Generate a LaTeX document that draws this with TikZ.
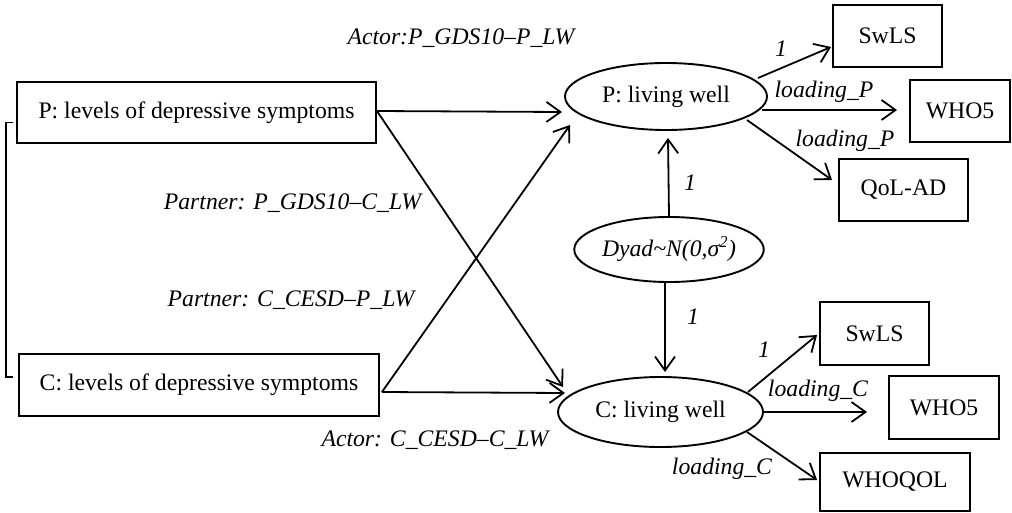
\documentclass[tikz,border=0pt]{standalone}
\usepackage{fontspec}
\setmainfont{Liberation Serif}
\usetikzlibrary{shapes.geometric,arrows.meta,calc}
\begin{document}
\begin{tikzpicture}[x=1pt,y=-1pt,
  every node/.style={font=\fontsize{23.7pt}{28pt}\selectfont, inner sep=0pt},
  box/.style={draw, line width=1.9pt, rectangle},
  lat/.style={draw, line width=1.9pt, ellipse},
  lab/.style={font=\fontsize{23.7pt}{28pt}\selectfont\itshape},
  arr/.style={line width=1.8pt, -{Straight Barb[length=14pt,width=20pt]}},
  brk/.style={line width=1.8pt},
]
\useasboundingbox (0,0) rectangle (1012,512);
% observed predictors
\node[box, minimum width=359pt, minimum height=61pt] (pbox) at (196.5,112.5) {P: levels of depressive symptoms};
\node[box, minimum width=360pt, minimum height=62pt] (cbox) at (199,385) {C: levels of depressive symptoms};
% latent variables
\node[lat, minimum width=202pt, minimum height=67pt] (plw) at (666,96.5) {P: living well};
\node[lat, minimum width=172pt, minimum height=65pt] (dyad) at (669,249.5) {\itshape Dyad\textasciitilde N(0,σ\textsuperscript{2})};
\node[lat, minimum width=205pt, minimum height=70pt] (clw) at (660.5,412) {C: living well};
% indicators
\node[box, minimum width=109pt, minimum height=62pt] (swlsp) at (887.5,36) {SwLS};
\node[box, minimum width=100pt, minimum height=62pt] (whop) at (960,111) {WHO5};
\node[box, minimum width=129pt, minimum height=62pt] (qol) at (903.5,190) {QoL-AD};
\node[box, minimum width=109pt, minimum height=63pt] (swlsc) at (874.5,333.5) {SwLS};
\node[box, minimum width=110pt, minimum height=63pt] (whoc) at (944,407.5) {WHO5};
\node[box, minimum width=150pt, minimum height=58pt] (whoqol) at (895,482) {WHOQOL};
% bracket (correlation)
\draw[brk] ($(pbox.west)+(-3,10)$) -- ++(-7,0) |- ($(cbox.west)+(-5,-8)$);
% actor / partner paths
\draw[arr] ($(pbox.east)+(0,-1.5)$) -- ($(plw.center)+(-104,15.5)$);
\draw[arr] ($(cbox.east)+(2,7)$) -- ($(plw.center)+(-96,28.5)$);
\draw[arr] ($(pbox.east)+(0,-1.5)$) -- ($(clw.center)+(-97.5,-25)$);
\draw[arr] ($(cbox.east)+(2,7)$) -- ($(clw.center)+(-95.5,-19)$);
% dyad paths
\draw[arr] (dyad.north) -- ($(plw.south)+(2,7)$);
\draw[arr] ($(dyad.south)+(-4,0)$) -- ($(dyad.south |- clw.north)+(-4,-4)$);
% loadings P
\draw[arr] ($(plw.center)+(92,-18.5)$) -- ($(swlsp.west)+(-1,11)$);
\draw[arr] ($(plw.center)+(96,13.5)$) -- ($(whop.west)+(-12,-1)$);
\draw[arr] ($(plw.center)+(81,23.5)$) -- ($(qol.west)+(-6,-10)$);
% loadings C
\draw[arr] ($(clw.center)+(87.5,-20)$) -- ($(swlsc.west)+(-2,1.5)$);
\draw[arr] ($(clw.center)+(102.5,0)$) -- ($(whoc.west)+(-21,4.5)$);
\draw[arr] ($(clw.center)+(86.5,20)$) -- ($(whoqol.west)+(-2,-2)$);
% labels
\node[lab] (l1) at (461,38) {Actor:P\_GDS10--P\_LW};
\node[lab] (l2) at (292.5,203) {Partner: P\_GDS10--C\_LW};
\node[lab] (l3) at (291,300) {Partner: C\_CESD--P\_LW};
\node[lab] (l4) at (435,440) {Actor: C\_CESD--C\_LW};
\node[lab] (l5) at (781,49) {1};
\node[lab] (l6) at (824,92) {loading\_P};
\node[lab] (l7) at (845,141) {loading\_P};
\node[lab] (l8) at (690,183) {1};
\node[lab] (l9) at (693,317) {1};
\node[lab] (l10) at (764,350) {1};
\node[lab] (l11) at (818,391) {loading\_C};
\node[lab] (l12) at (722,469) {loading\_C};
\end{tikzpicture}
\end{document}
